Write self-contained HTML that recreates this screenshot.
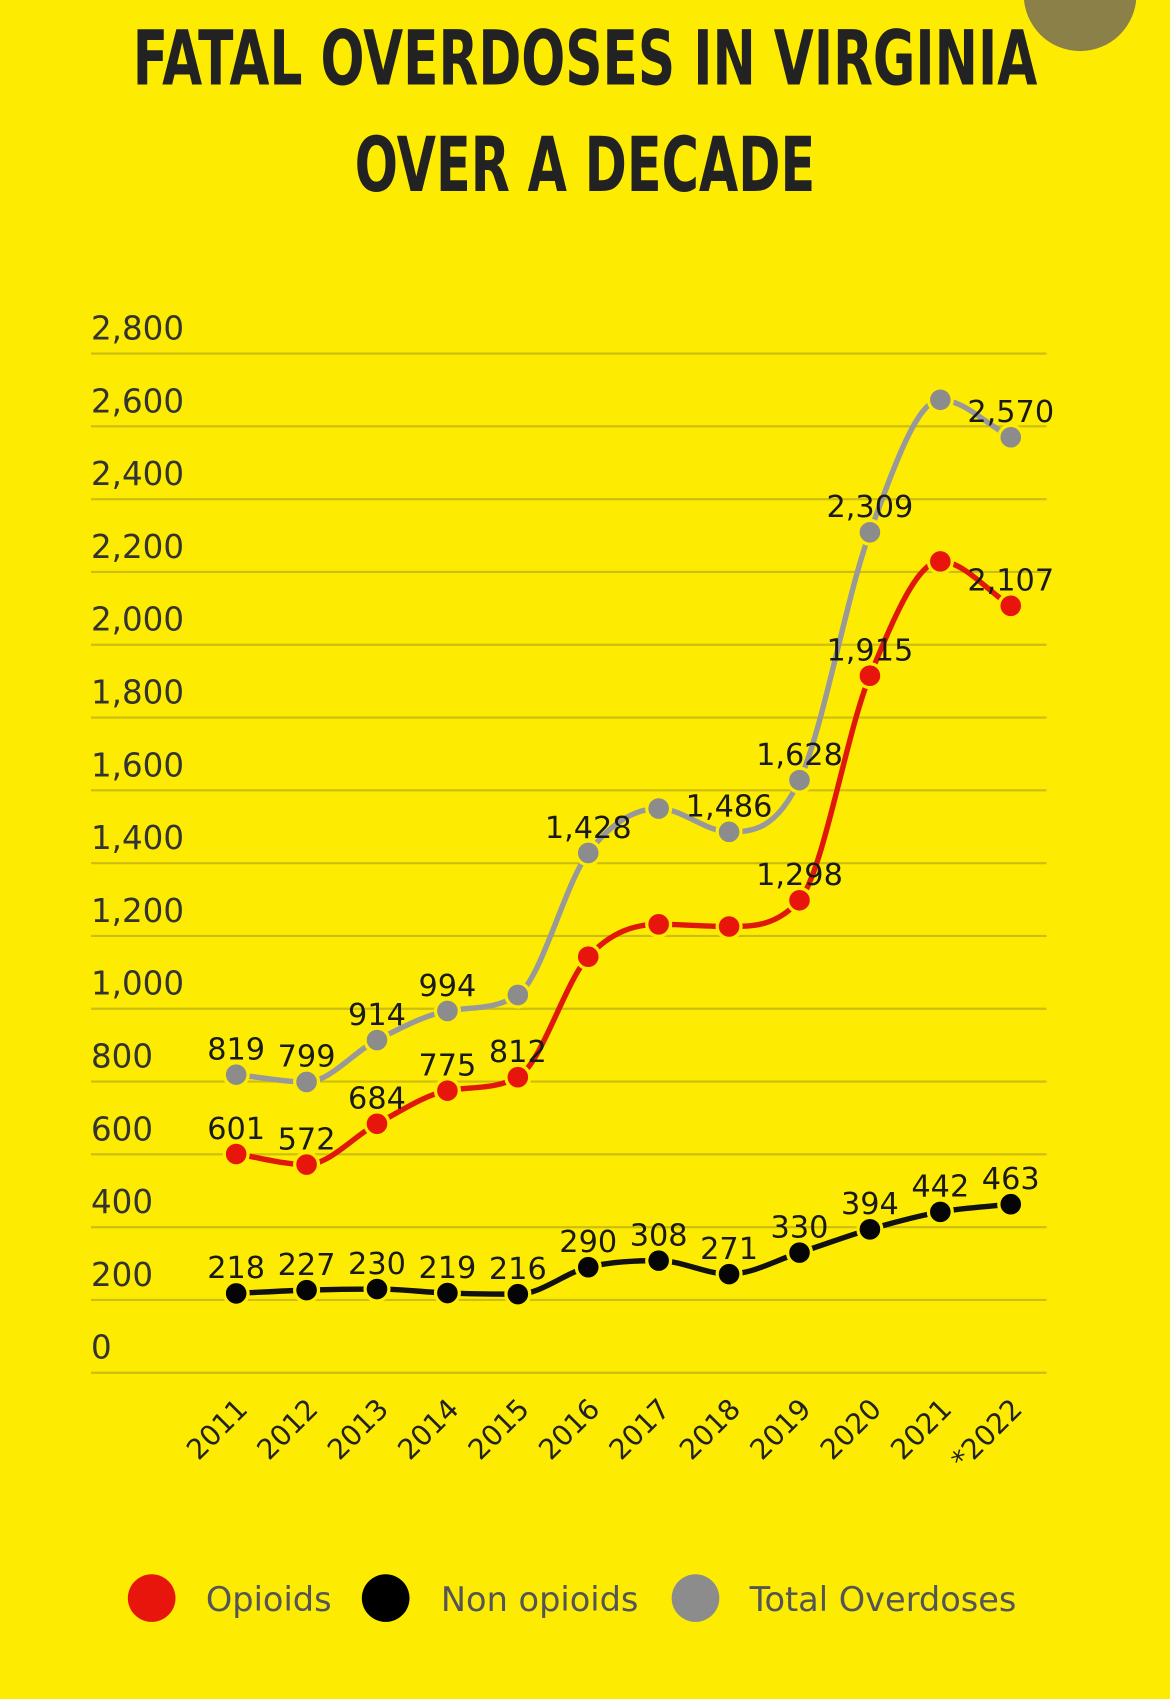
<!DOCTYPE html>
<html><head><meta charset="utf-8"><style>
html,body{margin:0;padding:0;background:#FDEC02;}
svg{display:block;}
text{font-family:"DejaVu Sans","Liberation Sans",sans-serif;}
</style></head><body>
<svg id="chart" width="1170" height="1699" viewBox="0 0 1080 1568" xmlns="http://www.w3.org/2000/svg">
<rect x="0" y="0" width="1080" height="1568" fill="#FDEC02"/>
<circle cx="997" cy="-5" r="52" fill="#8a8048"/>
<text x="540" y="78" text-anchor="middle" font-family="'Liberation Sans Narrow','Liberation Sans',sans-serif" font-weight="bold" font-size="70" fill="#222" textLength="835" lengthAdjust="spacingAndGlyphs">FATAL OVERDOSES IN VIRGINIA</text>
<text x="540" y="176" text-anchor="middle" font-family="'Liberation Sans Narrow','Liberation Sans',sans-serif" font-weight="bold" font-size="70" fill="#222" textLength="425" lengthAdjust="spacingAndGlyphs">OVER A DECADE</text>
<g id="grid"></g><g id="lines"></g><g id="dots"></g><g id="labels"></g><g id="xaxis"></g>
<g>
<g><circle cx="140" cy="1475" r="22" fill="#e8150c"/><text x="190" y="1487" font-size="31" fill="#555">Opioids</text></g>
<g><circle cx="356" cy="1475" r="22" fill="#000"/><text x="407" y="1487" font-size="31" fill="#555">Non opioids</text></g>
<g><circle cx="642" cy="1475" r="22" fill="#8c8c8c"/><text x="692" y="1487" font-size="31" fill="#555">Total Overdoses</text></g>
</g>
</svg>
<script>
const years=["2011","2012","2013","2014","2015","2016","2017","2018","2019","2020","2021","*2022"];
const totalVals=[819,799,914,994,1038,1428,1550,1486,1628,2309,2673,2570];
const opioidVals=[601,572,684,775,812,1143,1232,1226,1298,1915,2229,2107];
const nonVals=[218,227,230,219,216,290,308,271,330,394,442,463];
const totalLabels=["819","799","914","994",null,"1,428",null,"1,486","1,628","2,309",null,"2,570"];
const opioidLabels=["601","572","684","775","812",null,null,null,"1,298","1,915",null,"2,107"];
const nonLabels=["218","227","230","219","216","290","308","271","330","394","442","463"];
const yTicks=[0,200,400,600,800,1000,1200,1400,1600,1800,2000,2200,2400,2600,2800];
const NS="http://www.w3.org/2000/svg";
const y0=1267,pxPer=67.2/200;
function yS(v){return y0-v*pxPer;}
function xS(i){return 218+i*65;}
function mk(tag,attrs,parent){const e=document.createElementNS(NS,tag);for(const k in attrs)e.setAttribute(k,attrs[k]);parent.appendChild(e);return e;}
const grid=document.getElementById('grid');
yTicks.forEach(t=>{
  const l=mk('line',{x1:84,x2:966,y1:yS(t),y2:yS(t),stroke:'#cdbd10','stroke-width':2},grid);
  
  
  const tx=mk('text',{x:84,y:yS(t)-13,'font-size':30,fill:'#333'},grid);
  tx.textContent=t.toLocaleString('en-US');
  
  
});
const xa=document.getElementById('xaxis');
years.forEach((yr,i)=>{
  const tx=mk('text',{x:xS(i)+12,y:1302,'font-size':26,fill:'#222','text-anchor':'end',transform:`rotate(-45 ${xS(i)+12} 1302)`},xa);
  tx.textContent=yr;
  
  
});
function monotone(pts){
  const n=pts.length,m=[];const d=[];
  for(let i=0;i<n-1;i++)d.push((pts[i+1][1]-pts[i][1])/(pts[i+1][0]-pts[i][0]));
  for(let i=0;i<n;i++){
    if(i===0)m.push(d[0]);else if(i===n-1)m.push(d[n-2]);
    else m.push(d[i-1]*d[i]<=0?0:(d[i-1]+d[i])/2);
  }
  for(let i=0;i<n-1;i++){if(d[i]===0){m[i]=0;m[i+1]=0;continue;}const a=m[i]/d[i],b=m[i+1]/d[i],s=a*a+b*b;if(s>9){const t=3/Math.sqrt(s);m[i]=t*a*d[i];m[i+1]=t*b*d[i];}}
  let p=`M${pts[0][0]},${pts[0][1]}`;
  for(let i=0;i<n-1;i++){const h=(pts[i+1][0]-pts[i][0])/3;
    p+=` C${pts[i][0]+h},${pts[i][1]+m[i]*h} ${pts[i+1][0]-h},${pts[i+1][1]-m[i+1]*h} ${pts[i+1][0]},${pts[i+1][1]}`;}
  return p;
}
const series=[
  {name:'total',vals:totalVals,labels:totalLabels,color:'#8c8c8c',line:'#999'},
  {name:'opioids',vals:opioidVals,labels:opioidLabels,color:'#e8150c',line:'#e0180c'},
  {name:'non-opioids',vals:nonVals,labels:nonLabels,color:'#050505',line:'#111'}
];
const lg=document.getElementById('lines'),dg=document.getElementById('dots'),lb=document.getElementById('labels');
series.forEach(s=>{
  const pts=s.vals.map((v,i)=>[xS(i),yS(v)]);
  const p=mk('path',{d:monotone(pts),fill:'none',stroke:s.line,'stroke-width':5},lg);
  
  
  pts.forEach((pt,i)=>{
    const c=mk('circle',{cx:pt[0],cy:pt[1],r:11,fill:s.color,stroke:'#FDEC02','stroke-width':3},dg);
    
    
    if(s.labels[i]){
      const t=mk('text',{x:pt[0],y:pt[1]-14,'font-size':28,fill:'#1a1a1a','text-anchor':'middle'},lb);
      t.textContent=s.labels[i];
      
      
    }
  });
});
</script>
</body></html>
